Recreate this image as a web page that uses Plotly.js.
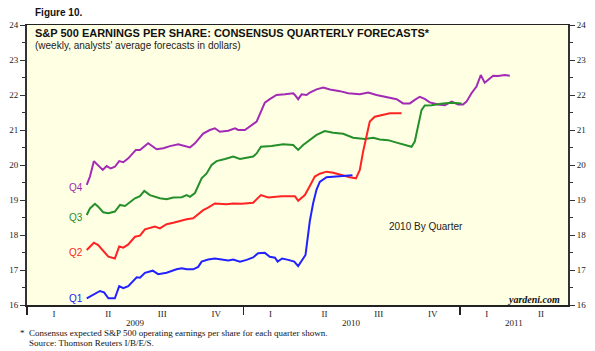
<!DOCTYPE html>
<html>
<head>
<meta charset="utf-8">
<script src="https://cdn.plot.ly/plotly-3.0.1.min.js"></script>
<style>html,body{margin:0;padding:0;background:#fff;}#chart{width:595px;height:351px;}</style>
</head>
<body>
<div id="chart"></div>
<script>
// Dates as decimal years (weekly observations)
const q4X = [2009.276,2009.291,2009.309,2009.329,2009.350,2009.368,2009.387,2009.406,2009.426,2009.445,2009.468,2009.503,2009.522,2009.560,2009.599,2009.630,2009.661,2009.699,2009.730,2009.753,2009.776,2009.799,2009.814,2009.845,2009.868,2009.891,2009.930,2009.961,2009.976,2010.007,2010.030,2010.061,2010.084,2010.099,2010.122,2010.153,2010.192,2010.230,2010.238,2010.253,2010.269,2010.292,2010.307,2010.330,2010.338,2010.369,2010.400,2010.446,2010.484,2010.538,2010.577,2010.615,2010.677,2010.708,2010.738,2010.769,2010.792,2010.815,2010.838,2010.861,2010.900,2010.931,2010.962,2010.992,2011.015,2011.031,2011.054,2011.077,2011.097,2011.115,2011.154,2011.177,2011.208,2011.231];
const q4Y = [19.43,19.67,20.11,20.00,19.86,19.97,19.90,19.95,20.11,20.08,20.19,20.43,20.43,20.62,20.45,20.48,20.54,20.59,20.55,20.50,20.62,20.81,20.90,21.00,21.05,20.95,20.98,21.05,21.00,21.00,21.10,21.24,21.57,21.78,21.88,22.00,22.02,22.05,22.00,21.88,22.02,22.00,22.07,22.14,22.16,22.21,22.16,22.11,22.05,22.02,22.07,22.00,21.92,21.88,21.76,21.76,21.86,21.95,21.89,21.79,21.73,21.71,21.81,21.73,21.73,21.81,22.05,22.24,22.57,22.35,22.55,22.54,22.57,22.55];

const q3X = [2009.276,2009.291,2009.314,2009.329,2009.352,2009.376,2009.406,2009.430,2009.453,2009.476,2009.499,2009.522,2009.542,2009.568,2009.591,2009.614,2009.645,2009.676,2009.715,2009.738,2009.753,2009.776,2009.807,2009.830,2009.853,2009.876,2009.915,2009.953,2009.984,2010.022,2010.045,2010.061,2010.081,2010.130,2010.184,2010.230,2010.253,2010.276,2010.299,2010.338,2010.376,2010.415,2010.461,2010.507,2010.561,2010.600,2010.630,2010.669,2010.708,2010.746,2010.777,2010.792,2010.807,2010.823,2010.838,2010.869,2010.923,2010.963,2011.008];
const q3Y = [18.57,18.76,18.89,18.81,18.65,18.62,18.67,18.86,18.83,18.95,19.05,19.11,19.26,19.14,19.09,19.05,19.02,19.07,19.08,19.14,19.09,19.20,19.62,19.76,20.00,20.11,20.17,20.24,20.17,20.21,20.24,20.33,20.52,20.54,20.59,20.57,20.43,20.57,20.67,20.86,20.97,20.92,20.89,20.78,20.74,20.78,20.73,20.71,20.64,20.57,20.52,20.67,21.14,21.57,21.70,21.71,21.76,21.78,21.76];

const q2X = [2009.276,2009.309,2009.329,2009.352,2009.376,2009.406,2009.426,2009.445,2009.468,2009.499,2009.522,2009.545,2009.568,2009.591,2009.614,2009.645,2009.676,2009.707,2009.738,2009.768,2009.799,2009.814,2009.837,2009.868,2009.922,2009.953,2009.992,2010.045,2010.081,2010.115,2010.176,2010.238,2010.253,2010.284,2010.307,2010.330,2010.353,2010.384,2010.415,2010.454,2010.492,2010.520,2010.538,2010.553,2010.569,2010.584,2010.607,2010.646,2010.677,2010.731];
const q2Y = [17.57,17.78,17.71,17.55,17.38,17.33,17.67,17.64,17.73,17.95,17.98,18.16,18.19,18.24,18.19,18.31,18.35,18.41,18.45,18.48,18.62,18.71,18.78,18.90,18.88,18.90,18.89,18.92,19.14,19.07,19.11,19.11,18.98,19.14,19.40,19.67,19.75,19.81,19.78,19.71,19.65,19.62,19.86,20.38,20.81,21.24,21.38,21.43,21.48,21.48];

const q1X = [2009.276,2009.306,2009.337,2009.356,2009.376,2009.406,2009.426,2009.445,2009.468,2009.507,2009.522,2009.545,2009.581,2009.606,2009.645,2009.691,2009.715,2009.738,2009.768,2009.791,2009.807,2009.837,2009.868,2009.899,2009.930,2009.953,2009.984,2010.015,2010.045,2010.068,2010.099,2010.122,2010.146,2010.158,2010.179,2010.207,2010.235,2010.253,2010.287,2010.307,2010.322,2010.338,2010.353,2010.384,2010.446,2010.504];
const q1Y = [16.19,16.29,16.40,16.36,16.19,16.19,16.54,16.48,16.54,16.79,16.78,16.92,16.98,16.88,16.92,17.02,17.05,17.02,17.02,17.09,17.24,17.30,17.33,17.30,17.27,17.30,17.24,17.29,17.36,17.48,17.49,17.38,17.35,17.24,17.33,17.29,17.24,17.11,17.43,18.40,18.90,19.30,19.52,19.65,19.67,19.71];

const seriesNames = ["Q4","Q3","Q2","Q1"];
const seriesColors = ["#a22ab5","#24902a","#ff2323","#2222ff"];
const labelY = [19.37,18.51,17.51,16.20];

const quarterTickVals = [2009.125,2009.375,2009.625,2009.875,2010.125,2010.375,2010.625,2010.875,2011.125,2011.375];
const quarterTickText = ["I","II","III","IV","I","II","III","IV","I","II"];
const yearLabels = ["2009","2010","2011"];
const yearLabelX = [2009.5,2010.5,2011.25];
const yearBounds = [2009,2010,2011];

const xs = [q4X,q3X,q2X,q1X];
const ys = [q4Y,q3Y,q2Y,q1Y];

const traces = xs.map((x,i)=>({
  x:x, y:ys[i], type:'scatter', mode:'lines', name:seriesNames[i],
  line:{color:seriesColors[i], width:2}, hoverinfo:'skip', showlegend:false
}));
traces.push({x:[2009],y:[16],yaxis:'y2',type:'scatter',mode:'markers',marker:{opacity:0},hoverinfo:'skip',showlegend:false});

const serif = "Liberation Serif, Times New Roman, serif";
const sans = "Liberation Sans, Arial, Helvetica, sans-serif";

const annotations = [];
seriesNames.forEach((n,i)=>annotations.push({
  x:2009.268, y:labelY[i], xref:'x', yref:'y', text:n, showarrow:false,
  xanchor:'right', yanchor:'middle', font:{family:sans,size:10,color:seriesColors[i]}
}));
yearLabels.forEach((t,i)=>annotations.push({
  x:yearLabelX[i], y:-0.064, xref:'x', yref:'paper', text:t, showarrow:false,
  xanchor:'center', yanchor:'middle', font:{family:serif,size:9,color:'#222'}
}));
annotations.push(
  {x:0.011,y:1.043,xref:'paper',yref:'paper',text:'<b>Figure 10.</b>',showarrow:false,xanchor:'left',yanchor:'middle',font:{family:sans,size:10,color:'#111'}},
  {x:0.011,y:0.971,xref:'paper',yref:'paper',text:'<b>S&P 500 EARNINGS PER SHARE: CONSENSUS QUARTERLY FORECASTS*</b>',showarrow:false,xanchor:'left',yanchor:'middle',font:{family:sans,size:11,color:'#111'}},
  {x:0.011,y:0.927,xref:'paper',yref:'paper',text:"(weekly, analysts' average forecasts in dollars)",showarrow:false,xanchor:'left',yanchor:'middle',font:{family:sans,size:10,color:'#222'}},
  {x:0.665,y:0.282,xref:'paper',yref:'paper',text:'2010 By Quarter',showarrow:false,xanchor:'left',yanchor:'middle',font:{family:sans,size:10,color:'#222'}},
  {x:0.989,y:0.018,xref:'paper',yref:'paper',text:'<b><i>yardeni.com</i></b>',showarrow:false,xanchor:'right',yanchor:'middle',font:{family:serif,size:10,color:'#111'}},
  {x:-0.017,y:-0.101,xref:'paper',yref:'paper',text:'*',showarrow:false,xanchor:'left',yanchor:'middle',font:{family:serif,size:9,color:'#111'}},
  {x:0,y:-0.101,xref:'paper',yref:'paper',text:'Consensus expected S&P 500 operating earnings per share for each quarter shown.',showarrow:false,xanchor:'left',yanchor:'middle',font:{family:serif,size:9,color:'#111'}},
  {x:0,y:-0.137,xref:'paper',yref:'paper',text:'Source: Thomson Reuters I/B/E/S.',showarrow:false,xanchor:'left',yanchor:'middle',font:{family:serif,size:9,color:'#111'}}
);

const yCommon = {
  range:[16,24], dtick:1, tick0:16, ticks:'outside', ticklen:5, tickwidth:1, tickcolor:'#333',
  showgrid:false, zeroline:false, showline:true, linecolor:'#333', linewidth:2,
  tickfont:{family:serif,size:9,color:'#222'},
  minor:{dtick:0.5, tick0:16, ticks:'outside', ticklen:3, tickcolor:'#333', showgrid:false}
};

const layout = {
  width:595, height:351,
  margin:{l:27,r:27,t:25,b:46},
  paper_bgcolor:'#ffffff', plot_bgcolor:'#ffffe4',
  showlegend:false,
  xaxis:{
    range:[2009,2011.5], tickmode:'array', tickvals:quarterTickVals, ticktext:quarterTickText,
    ticks:'', showgrid:false, zeroline:false, showline:true, linecolor:'#222', linewidth:1.5, mirror:true,
    tickfont:{family:serif,size:9,color:'#222'},
    minor:{tickmode:'array', tickvals:yearBounds, ticks:'outside', ticklen:8, tickwidth:1.5, tickcolor:'#222', showgrid:false}
  },
  yaxis:Object.assign({side:'left'}, yCommon),
  yaxis2:Object.assign({side:'right', overlaying:'y', anchor:'x'}, yCommon),
  annotations:annotations
};

Plotly.newPlot('chart', traces, layout, {staticPlot:true, displayModeBar:false});
</script>
</body>
</html>
